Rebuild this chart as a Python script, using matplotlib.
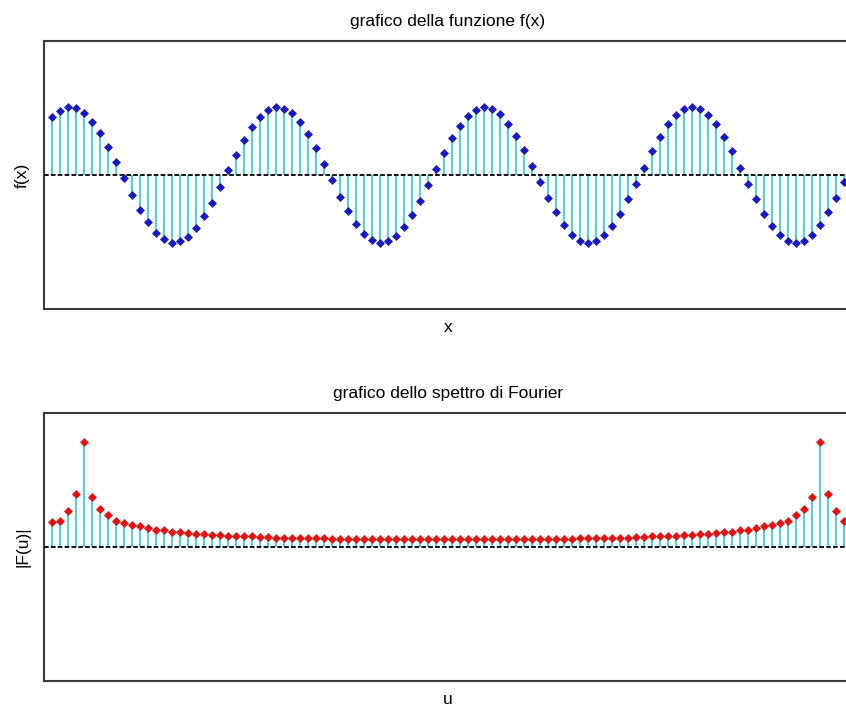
import matplotlib
matplotlib.use("Agg")
import matplotlib.pyplot as plt

# ---- data ----
n_samples = 100
x_idx = list(range(1, n_samples + 1))

f_values = [0.85, 0.95, 1.00, 0.99, 0.92, 0.79, 0.62, 0.42, 0.19, -0.05,
            -0.29, -0.51, -0.70, -0.85, -0.95, -1.00, -0.98, -0.91, -0.79, -0.61,
            -0.41, -0.17, 0.07, 0.30, 0.52, 0.71, 0.86, 0.96, 1.00, 0.98,
            0.91, 0.78, 0.60, 0.40, 0.16, -0.08, -0.32, -0.53, -0.72, -0.87,
            -0.96, -1.00, -0.98, -0.90, -0.77, -0.59, -0.38, -0.15, 0.09, 0.33,
            0.54, 0.73, 0.87, 0.96, 1.00, 0.98, 0.90, 0.76, 0.58, 0.37,
            0.14, -0.10, -0.34, -0.55, -0.74, -0.88, -0.97, -1.00, -0.97, -0.89,
            -0.75, -0.57, -0.36, -0.13, 0.11, 0.35, 0.56, 0.75, 0.88, 0.97,
            1.00, 0.97, 0.88, 0.75, 0.56, 0.35, 0.11, -0.13, -0.36, -0.57,
            -0.75, -0.89, -0.97, -1.00, -0.97, -0.88, -0.74, -0.55, -0.34, -0.10]

spectrum = [0.24, 0.25, 0.34, 0.50, 1.00, 0.48, 0.36, 0.30, 0.25, 0.23,
            0.21, 0.20, 0.18, 0.165, 0.16, 0.146, 0.14, 0.13, 0.124, 0.12,
            0.114, 0.11, 0.107, 0.105, 0.10, 0.10, 0.095, 0.092, 0.09, 0.09,
            0.089, 0.088, 0.086, 0.084, 0.082, 0.077, 0.076, 0.076, 0.075, 0.075,
            0.075, 0.074, 0.074, 0.074, 0.074, 0.073, 0.073, 0.073, 0.073, 0.073,
            0.073, 0.073, 0.073, 0.073, 0.073, 0.073, 0.074, 0.074, 0.074, 0.074,
            0.075, 0.075, 0.075, 0.076, 0.076, 0.077, 0.082, 0.084, 0.086, 0.088,
            0.089, 0.09, 0.09, 0.092, 0.095, 0.10, 0.10, 0.105, 0.107, 0.11,
            0.114, 0.12, 0.124, 0.13, 0.14, 0.146, 0.16, 0.165, 0.18, 0.20,
            0.21, 0.23, 0.25, 0.30, 0.36, 0.48, 1.00, 0.50, 0.34, 0.25]

title_top = "grafico della funzione f(x)"
title_bot = "grafico dello spettro di Fourier"
xlabel_top, ylabel_top = "x", "f(x)"
xlabel_bot, ylabel_bot = "u", "|F(u)|"

# ---- style ----
FONT = ["Liberation Sans", "DejaVu Sans"]
FS = 12.5
STEM_C = "#3fd6e0"
SPINE_C = "#3a3a3a"

W, H = 846, 710
fig = plt.figure(figsize=(W / 100, H / 100), dpi=100)
fig.patch.set_facecolor("white")

left = 44 / W
width = 808 / W
ax1 = fig.add_axes([left, 1 - 309 / H, width, 268 / H])
ax2 = fig.add_axes([left, 1 - 681 / H, width, 268 / H])


def draw(ax, y, mcolor, ylim, title, xl, yl):
    ml, sl, bl = ax.stem(x_idx, y, basefmt=" ")
    sl.set_color(STEM_C)
    sl.set_linewidth(1.4)
    sl.set_zorder(2)
    ml.set_marker("D")
    ml.set_markersize(4.3)
    ml.set_color(mcolor)
    ml.set_markeredgecolor(mcolor)
    ml.set_markeredgewidth(0.5)
    ml.set_zorder(4)
    bl.set_visible(False)
    ax.axhline(0, color="black", lw=1.3, ls=(0, (2.6, 1.2)), zorder=3)
    ax.set_xlim(0, n_samples + 1)
    ax.set_ylim(*ylim)
    ax.set_xticks([])
    ax.set_yticks([])
    for s in ax.spines.values():
        s.set_color(SPINE_C)
        s.set_linewidth(1.5)
    ax.set_title(title, fontsize=FS, family=FONT, pad=11)
    ax.set_xlabel(xl, fontsize=FS, family=FONT, labelpad=8)
    ax.set_ylabel(yl, fontsize=FS, family=FONT, labelpad=10)


draw(ax1, f_values, "#1818c0", (-1.98, 1.98), title_top, xlabel_top, ylabel_top)
draw(ax2, spectrum, "#e01414", (-1.276, 1.276), title_bot, xlabel_bot, ylabel_bot)

fig.savefig("out.png", dpi=100, facecolor="white")
